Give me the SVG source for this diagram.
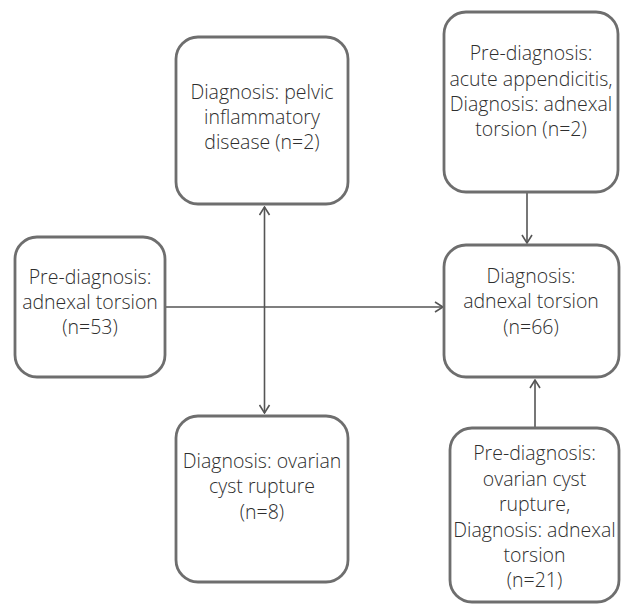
<svg xmlns="http://www.w3.org/2000/svg" width="621" height="604" viewBox="0 0 621 604">
<style>
.box{fill:#fff;stroke:#6e6e6e;stroke-width:2.8}
.t{font-family:"Open Sans","Noto Sans",sans-serif;font-size:19.5px;font-weight:300;fill:#2e2e2e;text-anchor:middle}
.c{fill:none;stroke:#555;stroke-width:1.6}
</style>
<defs>
<marker id="ah" markerUnits="userSpaceOnUse" viewBox="0 0 10 12" refX="9" refY="6" markerWidth="10" markerHeight="12" orient="auto-start-reverse">
<path d="M1,1 L9,6 L1,11" fill="none" stroke="#555" stroke-width="1.6"/>
</marker>
</defs>
<rect width="621" height="604" fill="#fff"/>
<g id="connectors">
<line class="c" x1="165" y1="307" x2="443" y2="307" marker-end="url(#ah)"/>
<line class="c" x1="264.5" y1="207" x2="264.5" y2="413" marker-start="url(#ah)" marker-end="url(#ah)"/>
<line class="c" x1="527" y1="192" x2="527" y2="243" marker-end="url(#ah)"/>
<line class="c" x1="535" y1="428" x2="535" y2="380" marker-end="url(#ah)"/>
</g>
<g id="n_pre_torsion">
<rect class="box" x="15" y="237" width="150" height="140" rx="22"/>
<text class="t" x="90" y="284">Pre-diagnosis:</text>
<text class="t" x="90" y="309">adnexal torsion</text>
<text class="t" x="90" y="334">(n=53)</text>
</g>
<g id="n_pid">
<rect class="box" x="176" y="37" width="172" height="167" rx="22"/>
<text class="t" x="262" y="99">Diagnosis: pelvic</text>
<text class="t" x="262" y="124">inflammatory</text>
<text class="t" x="262" y="149">disease (n=2)</text>
</g>
<g id="n_ocr">
<rect class="box" x="176" y="416" width="172" height="166" rx="22"/>
<text class="t" x="262" y="468">Diagnosis: ovarian</text>
<text class="t" x="262" y="493">cyst rupture</text>
<text class="t" x="262" y="519">(n=8)</text>
</g>
<g id="n_appendicitis">
<rect class="box" x="444" y="12" width="174" height="180" rx="22"/>
<text class="t" x="531" y="60">Pre-diagnosis:</text>
<text class="t" x="531" y="86">acute appendicitis,</text>
<text class="t" x="531" y="111">Diagnosis: adnexal</text>
<text class="t" x="531" y="136">torsion (n=2)</text>
</g>
<g id="n_torsion">
<rect class="box" x="444" y="245" width="175" height="132" rx="22"/>
<text class="t" x="531" y="283">Diagnosis:</text>
<text class="t" x="531" y="308">adnexal torsion</text>
<text class="t" x="531" y="334">(n=66)</text>
</g>
<g id="n_cyst_torsion">
<rect class="box" x="450" y="428" width="169" height="174" rx="22"/>
<text class="t" x="534.5" y="460">Pre-diagnosis:</text>
<text class="t" x="534.5" y="486">ovarian cyst</text>
<text class="t" x="534.5" y="511">rupture,</text>
<text class="t" x="534.5" y="537">Diagnosis: adnexal</text>
<text class="t" x="534.5" y="562">torsion</text>
<text class="t" x="534.5" y="587">(n=21)</text>
</g>
</svg>
